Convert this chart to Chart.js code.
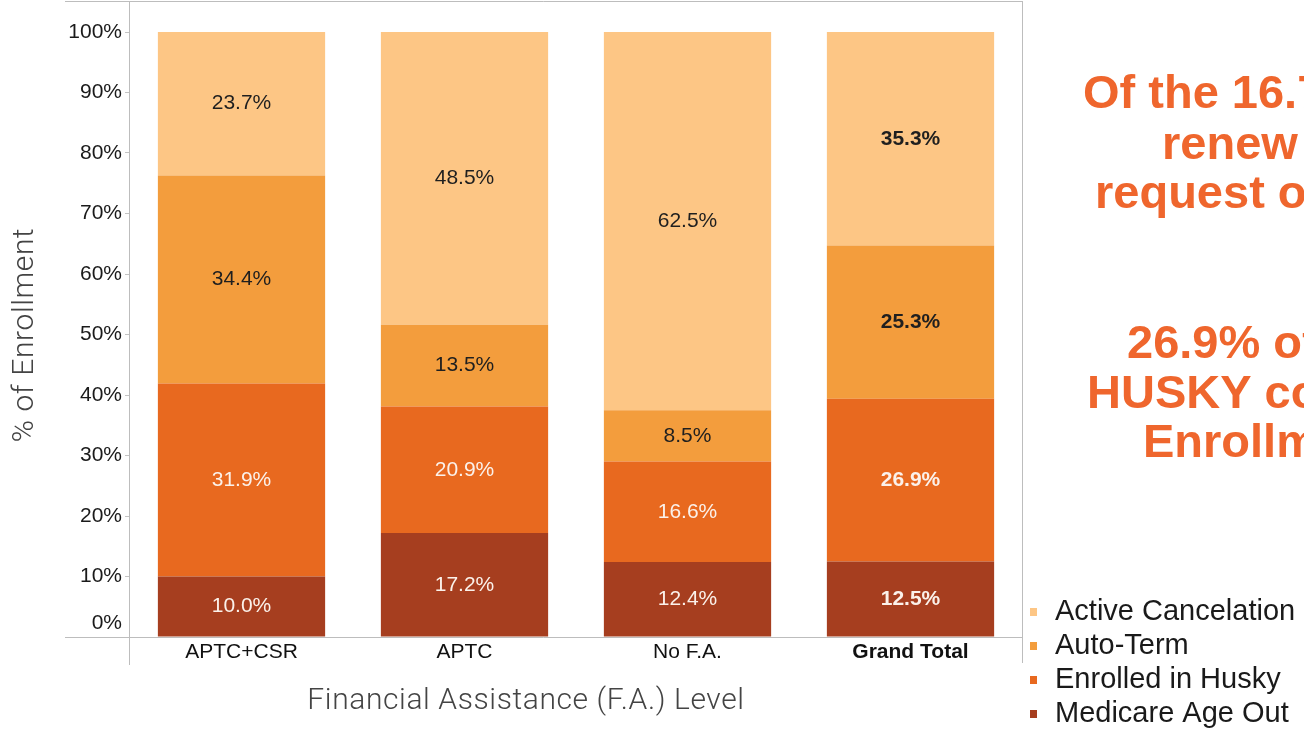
<!DOCTYPE html>
<html>
<head>
<meta charset="utf-8">
<script src="https://cdn.jsdelivr.net/npm/chart.js@4.4.1/dist/chart.umd.min.js"></script>
<style>
  html, body { margin: 0; padding: 0; background: #fff; }
  #wrap { width: 1304px; height: 729px; position: relative; }
</style>
</head>
<body>
<div id="wrap"><canvas id="myChart" width="1304" height="729"></canvas></div>
<script>
"use strict";

// categories along the x axis
const categories = ['APTC+CSR', 'APTC', 'No F.A.', 'Grand Total'];

// % of enrollment, stacked bottom to top
const medicareAgeOut    = [10.0, 17.2, 12.4, 12.5];
const enrolledInHusky   = [31.9, 20.9, 16.6, 26.9];
const autoTerm          = [34.4, 13.5, 8.5, 25.3];
const activeCancelation = [23.7, 48.5, 62.5, 35.3];

const yTicks = [0, 10, 20, 30, 40, 50, 60, 70, 80, 90, 100];

// callout text on the right (runs off the slide edge)
const calloutLines = ['Of the 16.7', 'renew', 'request or', '26.9% of', 'HUSKY co', 'Enrollm'];

const FONT = "'Liberation Sans', Arial, sans-serif";
const ORANGE = '#ef662d';

var frameAndLabels = {
    id: 'frameAndLabels',
    afterDatasetsDraw: function (chart) {
        var ctx = chart.ctx;

        // segment value labels
        chart.data.datasets.forEach(function (ds, di) {
            var meta = chart.getDatasetMeta(di);
            meta.data.forEach(function (bar, i) {
                var v = ds.data[i];
                var cy = (bar.y + bar.base) / 2;
                ctx.save();
                ctx.font = (i === 3 ? 'bold ' : '') + '21px ' + FONT;
                ctx.fillStyle = ds.labelColor;
                ctx.textAlign = 'center';
                ctx.textBaseline = 'middle';
                ctx.fillText(v.toFixed(1) + '%', bar.x, cy);
                ctx.restore();
            });
        });
    },
    afterDraw: function (chart) {
        var ctx = chart.ctx;
        var area = chart.chartArea;
        var yScale = chart.scales.y;

        // table frame
        ctx.save();
        ctx.strokeStyle = '#bdbdbd';
        ctx.lineWidth = 1;
        ctx.beginPath();
        ctx.moveTo(65, 1.5); ctx.lineTo(area.right + 0.5, 1.5);
        ctx.moveTo(65, area.bottom + 0.5); ctx.lineTo(area.right + 0.5, area.bottom + 0.5);
        ctx.moveTo(area.left - 0.5, 1); ctx.lineTo(area.left - 0.5, 665);
        ctx.moveTo(area.right + 0.5, 1); ctx.lineTo(area.right + 0.5, 663);
        ctx.stroke();
        ctx.restore();

        // y tick labels (0% is lifted above the bottom rule)
        ctx.save();
        ctx.font = '21px ' + FONT;
        ctx.fillStyle = '#1a1a1a';
        ctx.textAlign = 'right';
        ctx.textBaseline = 'middle';
        yTicks.forEach(function (t) {
            var py = Math.min(yScale.getPixelForValue(t), area.bottom - 14);
            ctx.fillText(t + '%', 122, py);
        });
        ctx.restore();

        // axis titles
        ctx.save();
        ctx.font = '300 30px Roboto, ' + FONT;
        ctx.letterSpacing = '0.6px';
        ctx.fillStyle = '#444';
        ctx.textAlign = 'center';
        ctx.textBaseline = 'middle';
        ctx.fillText('Financial Assistance (F.A.) Level', 526, 701);
        ctx.translate(25, 335);
        ctx.rotate(-Math.PI / 2);
        ctx.fillText('% of Enrollment', 0, 0);
        ctx.restore();

        // legend, top series first
        ctx.save();
        ctx.font = '29px ' + FONT;
        ctx.textAlign = 'left';
        ctx.textBaseline = 'middle';
        var items = chart.data.datasets.slice().reverse();
        items.forEach(function (ds, k) {
            var ly = 612 + k * 34;
            ctx.fillStyle = ds.backgroundColor;
            ctx.fillRect(1030, ly - 4, 7, 8);
            ctx.fillStyle = '#1a1a1a';
            ctx.fillText(ds.label, 1055, ly);
        });
        ctx.restore();

        // callout text
        ctx.save();
        ctx.font = 'bold 47px ' + FONT;
        ctx.fillStyle = ORANGE;
        ctx.textAlign = 'left';
        ctx.textBaseline = 'middle';
        var xs = [1083, 1162, 1095, 1127, 1087, 1143];
        var ys = [95, 146, 195, 345, 395, 444];
        calloutLines.forEach(function (s, k) {
            ctx.fillText(s, xs[k], ys[k]);
        });
        ctx.restore();
    }
};

var ctx = document.getElementById('myChart').getContext('2d');
var myChart = new Chart(ctx, {
    type: 'bar',
    data: {
        labels: categories,
        datasets: [
            { label: 'Medicare Age Out', data: medicareAgeOut, backgroundColor: '#a63e1f', labelColor: '#fbf1ea' },
            { label: 'Enrolled in Husky', data: enrolledInHusky, backgroundColor: '#e8691f', labelColor: '#fbf1ea' },
            { label: 'Auto-Term', data: autoTerm, backgroundColor: '#f39d3d', labelColor: '#1f1f1f' },
            { label: 'Active Cancelation', data: activeCancelation, backgroundColor: '#fdc685', labelColor: '#1f1f1f' }
        ]
    },
    options: {
        responsive: false,
        animation: false,
        categoryPercentage: 1.0,
        barPercentage: 0.75,
        layout: { padding: { top: 32, right: 282, bottom: 0, left: 0 } },
        plugins: {
            legend: { display: false },
            tooltip: { enabled: false }
        },
        scales: {
            x: {
                stacked: true,
                grid: { display: false, drawTicks: false },
                border: { display: false },
                ticks: {
                    padding: 3,
                    color: '#111',
                    font: function (c) {
                        return { family: FONT, size: 21, weight: c.index === 3 ? 'bold' : 'normal' };
                    }
                },
                afterFit: function (s) { s.height = 92; }
            },
            y: {
                stacked: true,
                min: 0,
                max: 100,
                ticks: { stepSize: 10, display: false },
                grid: { drawOnChartArea: false, drawTicks: true, tickLength: 5, color: '#c4c4c4' },
                border: { display: false },
                afterFit: function (s) { s.width = 130; }
            }
        }
    },
    plugins: [frameAndLabels]
});
</script>
</body>
</html>
